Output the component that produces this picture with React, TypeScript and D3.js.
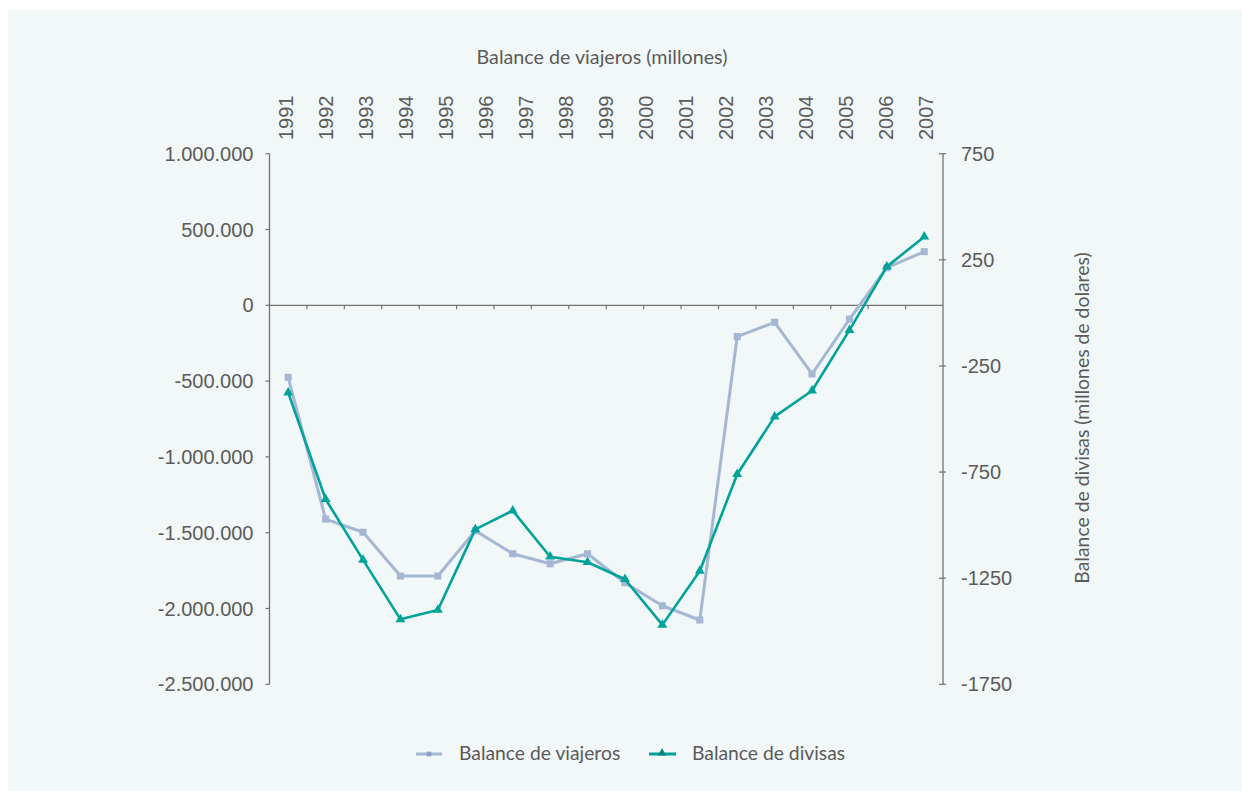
import React from "react";
import * as d3 from "d3";

// ---- data ----
const yearLabels = ["1991","1992","1993","1994","1995","1996","1997","1998","1999","2000","2001","2002","2003","2004","2005","2006","2007"];
// series have 18 points (the primary category axis has 18 slots)
const pointIndex = d3.range(18);
const viajeros = [-475000,-1410000,-1497000,-1786000,-1786000,-1487000,-1639000,-1705000,-1639000,-1830000,-1982000,-2076000,-206000,-112000,-453000,-92000,248000,354000];
const divisas = [-376,-878,-1164,-1444,-1400,-1020,-932,-1149,-1175,-1255,-1470,-1216,-760,-489,-367,-81,218,359];
const leftTicks = [1000000,500000,0,-500000,-1000000,-1500000,-2000000,-2500000];
const rightTicks = [750,250,-250,-750,-1250,-1750];

const W = 1242, H = 791;
const plot = { left: 269.5, right: 943, top: 153.7, bottom: 684.3 };
const C_VIA = "#a6b7d4";
const C_DIV = "#00a39b";
const TXT = "#5b5b5b";
const AX = "#737373";
const TICKFONT = "'Liberation Sans Narrow', 'Liberation Sans', Arial, sans-serif";
const TITLEFONT = "Lato, 'Open Sans', sans-serif";

export default function App() {
  const x = d3.scaleBand<number>().domain(pointIndex).range([plot.left, plot.right]).padding(0);
  const xl = d3.scaleBand<string>().domain(yearLabels).range([266, 946]).padding(0);
  const yL = d3.scaleLinear().domain([-2500000, 1000000]).range([plot.bottom, plot.top]);
  const yR = d3.scaleLinear().domain([-1750, 750]).range([plot.bottom, plot.top]);
  const cx = (i: number) => (x(i) as number) + x.bandwidth() / 2;
  const fmtL = (v: number) => (v < 0 ? "-" : "") + d3.format(",")(Math.abs(v)).replace(/,/g, ".");
  const fmtR = (v: number) => (v < 0 ? "-" : "") + String(Math.abs(v));

  const lineV = d3.line<number>().x((_, i) => cx(i)).y((d) => yL(d));
  const lineD = d3.line<number>().x((_, i) => cx(i)).y((d) => yR(d));
  const sq = d3.symbol().type(d3.symbolSquare).size(50)();
  const tri = d3.symbol().type(d3.symbolTriangle).size(42)();
  const sqL = d3.symbol().type(d3.symbolSquare).size(22)();
  const triL = d3.symbol().type(d3.symbolTriangle).size(30)();
  const y0 = yL(0);

  return (
    <svg width={W} height={H} style={{ position: "absolute", left: 0, top: 0 }}>
      <rect x={8} y={10} width={W - 8} height={H - 10} fill="#f2f7f7" />
      {/* top title */}
      <text x={602} y={64} textAnchor="middle" fill={TXT} fontFamily={TITLEFONT} fontSize={19.7}>
        Balance de viajeros (millones)
      </text>
      {/* year labels */}
      {yearLabels.map((yr) => (
        <text key={yr} transform={`translate(${(xl(yr) as number) + xl.bandwidth() / 2},140) rotate(-90)`}
          textAnchor="start" dominantBaseline="central" fill={TXT} fontFamily={TICKFONT} fontSize={20}>
          {yr}
        </text>
      ))}
      {/* left axis */}
      <line x1={plot.left} x2={plot.left} y1={plot.top} y2={plot.bottom} stroke={AX} strokeWidth={1.3} />
      {leftTicks.map((t) => (
        <g key={t}>
          <line x1={plot.left - 4} x2={plot.left} y1={yL(t)} y2={yL(t)} stroke={AX} strokeWidth={1.2} />
          <text x={253.5} y={yL(t)} textAnchor="end" dominantBaseline="central" fill={TXT} fontFamily={TICKFONT} fontSize={20}>
            {fmtL(t)}
          </text>
        </g>
      ))}
      {/* right axis */}
      <line x1={plot.right} x2={plot.right} y1={plot.top} y2={plot.bottom} stroke={AX} strokeWidth={1.3} />
      {rightTicks.map((t) => (
        <g key={t}>
          <line x1={plot.right - 4} x2={plot.right + 3} y1={yR(t)} y2={yR(t)} stroke={AX} strokeWidth={1.2} />
          <text x={961} y={yR(t)} textAnchor="start" dominantBaseline="central" fill={TXT} fontFamily={TICKFONT} fontSize={20}>
            {fmtR(t)}
          </text>
        </g>
      ))}
      <text transform={`translate(1081,418) rotate(-90)`} textAnchor="middle" dominantBaseline="central"
        fill={TXT} fontFamily={TITLEFONT} fontSize={19.4}>
        Balance de divisas (millones de dolares)
      </text>
      {/* category axis at zero */}
      <line x1={plot.left} x2={plot.right} y1={y0} y2={y0} stroke={AX} strokeWidth={1.3} />
      {pointIndex.slice(1).map((i) => (
        <line key={i} x1={x(i) as number} x2={x(i) as number} y1={y0} y2={y0 + 4} stroke={AX} strokeWidth={1.2} />
      ))}
      {/* series */}
      <path d={lineV(viajeros) || ""} fill="none" stroke={C_VIA} strokeWidth={3} strokeLinejoin="round" />
      {viajeros.map((v, i) => (
        <path key={i} d={sq as string} transform={`translate(${cx(i)},${yL(v)})`} fill={C_VIA} />
      ))}
      <path d={lineD(divisas) || ""} fill="none" stroke={C_DIV} strokeWidth={2.6} strokeLinejoin="round" />
      {divisas.map((v, i) => (
        <path key={i} d={tri as string} transform={`translate(${cx(i)},${yR(v)})`} fill={C_DIV} />
      ))}
      {/* legend */}
      <line x1={416} x2={442} y1={754} y2={754} stroke={C_VIA} strokeWidth={3} />
      <path d={sqL as string} transform="translate(429,754)" fill="#8ea0c4" />
      <text x={459} y={760} fill={TXT} fontFamily={TITLEFONT} fontSize={19.3}>Balance de viajeros</text>
      <line x1={649} x2={676} y1={754} y2={754} stroke={C_DIV} strokeWidth={3} />
      <path d={triL as string} transform="translate(662,753)" fill="#00857e" />
      <text x={692} y={760} fill={TXT} fontFamily={TITLEFONT} fontSize={19.3}>Balance de divisas</text>
    </svg>
  );
}
